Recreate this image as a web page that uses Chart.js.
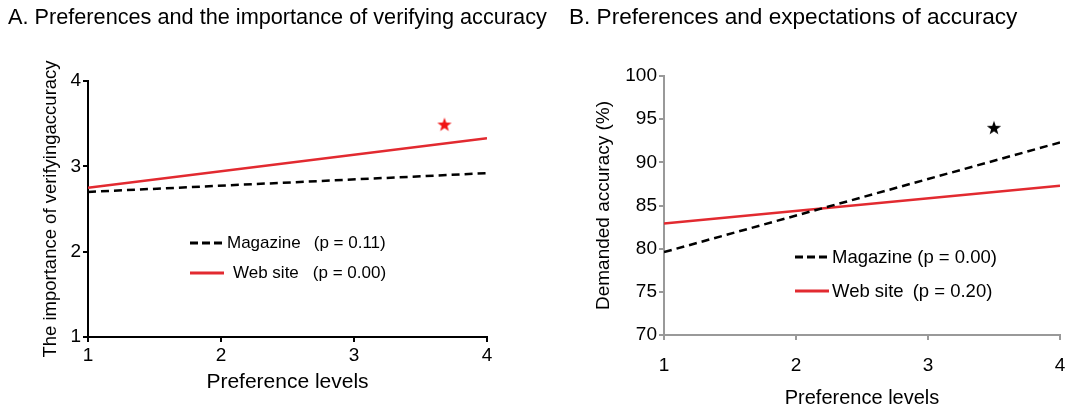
<!DOCTYPE html>
<html>
<head>
<meta charset="utf-8">
<script src="https://cdn.jsdelivr.net/npm/chart.js@4"></script>
<style>
  body { margin: 0; background: #fff; font-family: "Liberation Sans", Arial, sans-serif; }
  #wrap { position: relative; width: 1071px; height: 407px; overflow: hidden; }
  .panel { position: absolute; top: 0; height: 407px; }
  .title { position: absolute; top: 4px; color: #000; white-space: nowrap; }
  .leg { position: absolute; font-size: 17px; color: #000; white-space: nowrap; display: flex; align-items: center; }
  .leg svg { margin-right: 3px; }
</style>
</head>
<body>
<div id="wrap">
  <div class="panel" style="left:0;width:535px"><canvas id="chartA" width="535" height="407"></canvas></div>
  <div class="panel" style="left:535px;width:536px"><canvas id="chartB" width="536" height="407"></canvas></div>
  <div class="title" style="left:8px;font-size:21.7px">A. Preferences and the importance of verifying accuracy</div>
  <div class="title" style="left:569px;font-size:22.6px">B. Preferences and expectations of accuracy</div>

  <div class="leg" style="left:190px;top:233px">
    <svg width="34" height="6"><line x1="0" y1="3" x2="34" y2="3" stroke="#000" stroke-width="3" stroke-dasharray="8,4"/></svg>
    <span>Magazine</span><span style="margin-left:13px">(p = 0.11)</span>
  </div>
  <div class="leg" style="left:190px;top:263px">
    <svg width="34" height="6"><line x1="0" y1="3" x2="34" y2="3" stroke="rgb(226,42,48)" stroke-width="3"/></svg>
    <span style="margin-left:6px">Web site</span><span style="margin-left:14px">(p = 0.00)</span>
  </div>

  <div class="leg" style="left:795px;top:246px;font-size:18.5px">
    <svg width="34" height="6"><line x1="0" y1="3" x2="34" y2="3" stroke="#000" stroke-width="3" stroke-dasharray="8,4"/></svg>
    <span>Magazine</span><span style="margin-left:5px">(p = 0.00)</span>
  </div>
  <div class="leg" style="left:795px;top:280px;font-size:18.5px">
    <svg width="34" height="6"><line x1="0" y1="3" x2="34" y2="3" stroke="rgb(226,42,48)" stroke-width="3"/></svg>
    <span>Web site</span><span style="margin-left:9px">(p = 0.20)</span>
  </div>
</div>
<script>
// preference levels (x) at the two ends of each fitted line
const levels = [1, 4];

// panel A: importance of verifying accuracy
const magazineA = [2.70, 2.92];
const websiteA = [2.75, 3.33];
const starA = [3.68, 3.49];

// panel B: demanded accuracy (%)
const magazineB = [79.6, 92.3];
const websiteB = [82.9, 87.3];
const starB = [3.5, 94.0];

const ticksA = [1, 2, 3, 4];
const ticksB = [70, 75, 80, 85, 90, 95, 100];

const red = 'rgb(226,42,48)';

function starImage(color) {
  const c = document.createElement('canvas');
  c.width = 16; c.height = 16;
  const g = c.getContext('2d');
  g.fillStyle = color;
  g.beginPath();
  for (let i = 0; i < 10; i++) {
    const r = i % 2 === 0 ? 7.5 : 3;
    const a = -Math.PI / 2 + i * Math.PI / 5;
    const px = 8 + r * Math.cos(a), py = 8.5 + r * Math.sin(a);
    if (i === 0) g.moveTo(px, py); else g.lineTo(px, py);
  }
  g.closePath();
  g.fill();
  return c;
}

const pts = (ys) => levels.map((x, i) => ({ x: x, y: ys[i] }));
const family = '"Liberation Sans", Arial, sans-serif';

function makeChart(id, opts) {
  const axisFont = { family: family, size: 19 };
  return new Chart(document.getElementById(id), {
    type: 'line',
    data: {
      datasets: [
        { data: pts(opts.magazine), borderColor: '#000', borderWidth: 2.5, borderDash: [8, 5], pointRadius: 0, fill: false },
        { data: pts(opts.website), borderColor: red, borderWidth: 2.5, pointRadius: 0, fill: false },
        { data: [{ x: opts.star[0], y: opts.star[1] }], showLine: false, pointStyle: starImage(opts.starColor), pointRadius: 8 }
      ]
    },
    options: {
      responsive: false,
      animation: false,
      layout: { padding: { left: 0, right: opts.padRight, top: opts.top, bottom: 0 } },
      plugins: { legend: { display: false }, tooltip: { enabled: false } },
      scales: {
        x: {
          type: 'linear', min: 1, max: 4,
          afterFit: (s) => { s.height = opts.xHeight; s.paddingRight = 0; s.paddingLeft = 0; },
          ticks: { stepSize: 1, color: '#000', font: axisFont, padding: opts.xTickPad },
          grid: { drawOnChartArea: false, drawTicks: true, tickLength: 5, color: opts.axisColor, lineWidth: opts.axisWidth },
          border: { color: opts.axisColor, width: opts.axisWidth },
          title: { display: true, text: 'Preference levels', color: '#000', font: { family: family, size: opts.xTitleSize }, padding: { top: 0, bottom: opts.xTitlePad } }
        },
        y: {
          min: opts.yTicks[0], max: opts.yTicks[opts.yTicks.length - 1],
          afterFit: (s) => { s.width = opts.yWidth; s.paddingTop = 0; s.paddingBottom = 0; },
          afterBuildTicks: (s) => { s.ticks = opts.yTicks.map(v => ({ value: v })); },
          ticks: { color: '#000', font: axisFont, padding: 2 },
          grid: { drawOnChartArea: false, drawTicks: true, tickLength: 5, color: opts.axisColor, lineWidth: opts.axisWidth },
          border: { color: opts.axisColor, width: opts.axisWidth },
          title: { display: true, text: opts.yTitle, color: '#000', font: { family: family, size: opts.yTitleSize }, padding: { top: opts.yTitlePad, bottom: 0 } }
        }
      }
    }
  });
}

makeChart('chartA', {
  magazine: magazineA, website: websiteA, star: starA, starColor: 'rgb(240,20,20)',
  yTicks: ticksA, yTitle: 'The importance of verifyingaccuracy',
  axisColor: '#000', axisWidth: 2,
  top: 81, padRight: 48, xHeight: 70, yWidth: 88, xTickPad: 2, xTitlePad: 12, xTitleSize: 21,
  yTitlePad: 40, yTitleSize: 18.5
});

makeChart('chartB', {
  magazine: magazineB, website: websiteB, star: starB, starColor: '#000',
  yTicks: ticksB, yTitle: 'Demanded accuracy (%)',
  axisColor: '#999', axisWidth: 2,
  top: 76, padRight: 11, xHeight: 72, yWidth: 129, xTickPad: 14, xTitlePad: -3, xTitleSize: 20,
  yTitlePad: 57, yTitleSize: 19
});
</script>
</body>
</html>
